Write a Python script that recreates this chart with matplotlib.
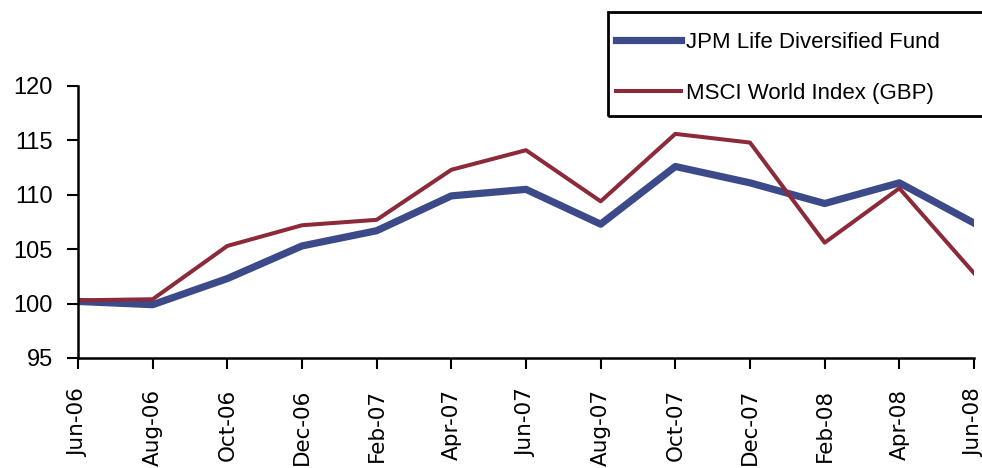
import numpy as np
import matplotlib.pyplot as plt
from matplotlib.patches import Rectangle

months = ['Jun-06', 'Aug-06', 'Oct-06', 'Dec-06', 'Feb-07', 'Apr-07', 'Jun-07',
          'Aug-07', 'Oct-07', 'Dec-07', 'Feb-08', 'Apr-08', 'Jun-08']
jpm = [100.2, 99.9, 102.3, 105.3, 106.7, 109.9, 110.5, 107.3, 112.6, 111.1, 109.2, 111.1, 107.4]
msci = [100.3, 100.4, 105.3, 107.2, 107.7, 112.3, 114.1, 109.4, 115.6, 114.8, 105.6, 110.6, 102.8]

plt.rcParams['font.family'] = ['Liberation Sans', 'DejaVu Sans']

W, H = 982, 468
fig = plt.figure(figsize=(W/100, H/100), dpi=100)
ax = fig.add_axes([78/W, 1-358/H, (974-78)/W, (358-86)/H])

x = np.arange(len(months))
ax.plot(x, jpm, color='#3c4a8a', lw=5.2, label='JPM Life Diversified Fund')
ax.plot(x, msci, color='#8c2a3a', lw=2.9, label='MSCI World Index (GBP)')

ax.set_xlim(0, len(months)-1)
ax.set_ylim(95, 120)
ax.set_yticks([95, 100, 105, 110, 115, 120])
ax.set_xticks(x)
ax.set_xticklabels(months, rotation=90, family='DejaVu Sans', fontsize=15.5)
ax.tick_params(axis='y', labelsize=17, length=8, width=1.5, direction='out', pad=10)
ax.tick_params(axis='x', length=8, width=1.5, direction='out', pad=14)
for s in ['top', 'right']:
    ax.spines[s].set_visible(False)
for s in ['left', 'bottom']:
    ax.spines[s].set_linewidth(1.8)

# legend box runs past the right edge, so draw the frame by hand
fig.patches.append(Rectangle((608/W, 1-116/H), 400/W, 104/H, transform=fig.transFigure,
                             fill=False, edgecolor='black', lw=2))
fig.legend(loc='upper left', bbox_to_anchor=(598/W, 1-14/H), fontsize=16, frameon=False,
           handlelength=2.95, handletextpad=0.2, labelspacing=1.35, borderpad=0.3)

fig.savefig('out.png', dpi=100)
